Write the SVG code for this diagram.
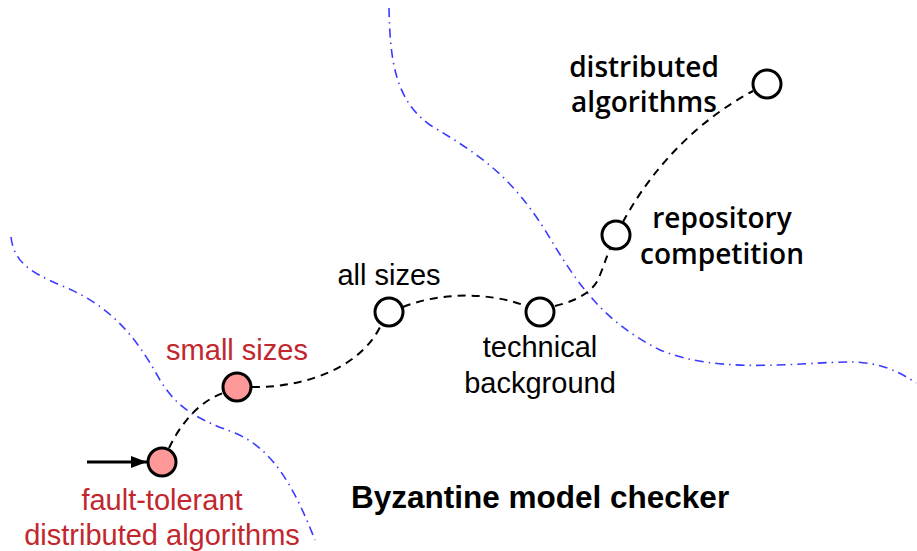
<svg xmlns="http://www.w3.org/2000/svg" width="917" height="551" viewBox="0 0 917 551">
<defs>
<marker id="arr" markerWidth="16" markerHeight="12" refX="16" refY="6" orient="auto" markerUnits="userSpaceOnUse">
<path d="M0,0 L16,6 L0,12 z" fill="#000"/>
</marker>
<style>
.bound{fill:none;stroke:#3b3bff;stroke-width:1.6;stroke-dasharray:9,5,1.5,5}
.edge{fill:none;stroke:#000;stroke-width:2;stroke-dasharray:8,6}
.node{fill:#fff;stroke:#000;stroke-width:3}
.hot{fill:#ff9999;stroke:#000;stroke-width:3}
.h{font-family:"Liberation Sans",Arial,sans-serif;font-size:29px;text-anchor:middle;fill:#000}
.red{fill:#c1272d}
.o{font-family:"Open Sans","Noto Sans",sans-serif;font-weight:600;font-size:28px;text-anchor:middle;fill:#000}
.title{font-family:"Liberation Sans",Arial,sans-serif;font-weight:bold;font-size:31.5px;fill:#000}
</style>
</defs>
<rect width="917" height="551" fill="#fff"/>
<g id="boundaries">
<path class="bound" d="M389,8 C390,60 395,100 430,125 C480,155 510,175 545,230 C575,280 600,320 660,350 C720,375 800,362 850,362 C880,362 900,372 916,383"/>
<path class="bound" d="M11,237 C14,262 30,272 60,285 C110,305 135,335 160,380 C178,410 200,420 235,433 C275,450 295,490 315,540"/>
</g>
<g id="connectors">
<path class="edge" d="M169,448 C180,425 198,402 223,393"/>
<path class="edge" d="M252,387 C300,388 360,370 381,325"/>
<path class="edge" d="M403,307 C440,292 490,292 526,306"/>
<path class="edge" d="M555,306 C580,300 595,290 600,275 C604,265 606,258 610,249"/>
<path class="edge" d="M623,222 C640,190 680,130 753,91"/>
<path d="M87,462 L147,462" stroke="#000" stroke-width="3" fill="none" marker-end="url(#arr)"/>
</g>
<g id="n-fault">
<circle class="hot" cx="162" cy="462" r="14"/>
<text class="h red" x="162" y="510">fault-tolerant</text>
<text class="h red" x="162" y="545">distributed algorithms</text>
</g>
<g id="n-small">
<circle class="hot" cx="237" cy="387" r="14"/>
<text class="h red" x="237" y="360">small sizes</text>
</g>
<g id="n-all">
<circle class="node" cx="389" cy="312" r="14"/>
<text class="h" x="389" y="285">all sizes</text>
</g>
<g id="n-tech">
<circle class="node" cx="540" cy="312" r="14"/>
<text class="h" x="540" y="357">technical</text>
<text class="h" x="540" y="393">background</text>
</g>
<g id="n-repo">
<circle class="node" cx="616" cy="235" r="14"/>
<text class="o" x="722" y="228">repository</text>
<text class="o" x="722" y="264">competition</text>
</g>
<g id="n-dist">
<circle class="node" cx="767" cy="84" r="14"/>
<text class="o" x="644" y="77">distributed</text>
<text class="o" x="644" y="112">algorithms</text>
</g>
<text class="title" x="351" y="508">Byzantine model checker</text>
</svg>
